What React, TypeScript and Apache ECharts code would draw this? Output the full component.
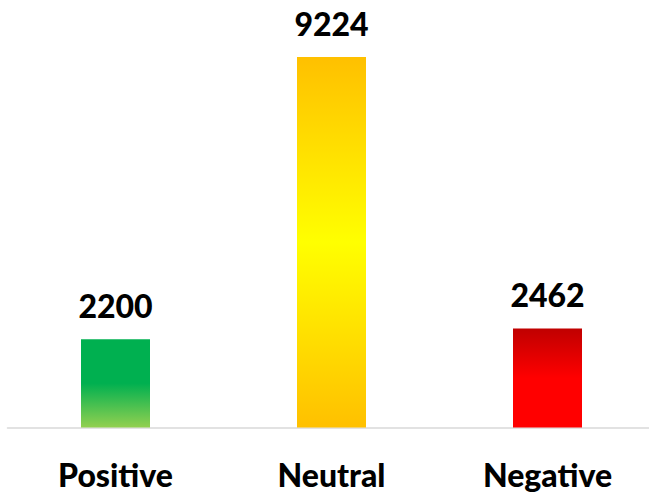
import React, { useEffect, useRef } from "react";
import * as echarts from "echarts";

const categories = ["Positive", "Neutral", "Negative"];
const values = [2200, 9224, 2462];
const gradientStops: [number, string][][] = [
  [[0, "#00B050"], [0.5, "#00B050"], [1, "#92D050"]],
  [[0, "#FFC000"], [0.5, "#FFFF00"], [1, "#FFC000"]],
  [[0, "#C00000"], [0.5, "#FF0000"], [1, "#FF0000"]],
];

export default function App() {
  const ref = useRef<HTMLDivElement>(null);
  useEffect(() => {
    if (!ref.current) return;
    const chart = echarts.init(ref.current, null, { renderer: "svg" });
    const font = "Lato, 'Open Sans', sans-serif";
    chart.setOption({
      animation: false,
      grid: { left: 7.5, right: 4.5, top: 57, bottom: 69.5, containLabel: false },
      xAxis: {
        type: "category",
        data: categories,
        axisLine: { show: true, lineStyle: { color: "#D9D9D9", width: 1.5 } },
        axisTick: { show: false },
        axisLabel: {
          color: "#000",
          fontFamily: font,
          fontWeight: 900,
          fontSize: 32,
          margin: 31,
        },
      },
      yAxis: {
        type: "value",
        min: 0,
        max: 9224,
        show: false,
        splitLine: { show: false },
      },
      series: [
        {
          type: "bar",
          barWidth: 69,
          data: values.map((v, i) => ({
            value: v,
            itemStyle: {
              color: new echarts.graphic.LinearGradient(
                0, 0, 0, 1,
                gradientStops[i].map(([offset, color]) => ({ offset, color }))
              ),
            },
          })),
          label: {
            show: true,
            position: "top",
            distance: 18,
            color: "#000",
            fontFamily: font,
            fontWeight: 900,
            fontSize: 32,
          },
        },
      ],
    });
    return () => chart.dispose();
  }, []);
  return (
    <div
      style={{ position: "absolute", left: 0, top: 0, width: 649, height: 497, overflow: "hidden", background: "#fff" }}
    >
      <div ref={ref} style={{ width: 660, height: 497 }} />
    </div>
  );
}
